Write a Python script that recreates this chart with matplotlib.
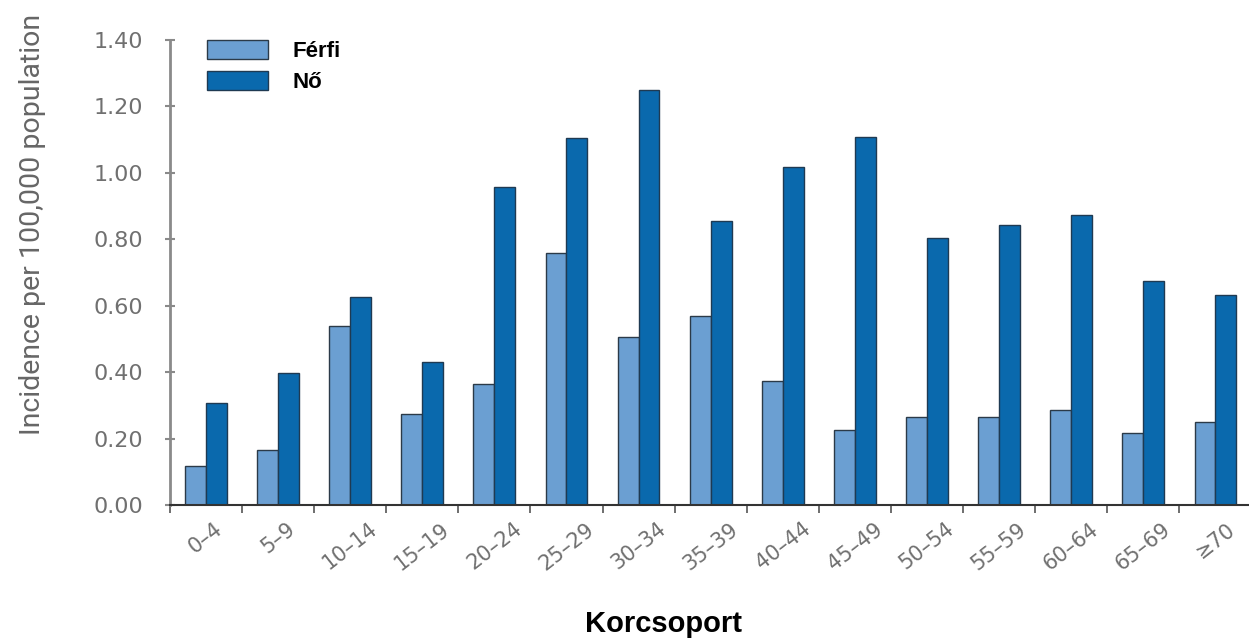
import numpy as np
import matplotlib

matplotlib.use('agg')

import matplotlib.pyplot as plt
from matplotlib.ticker import FixedLocator

groups = ['0–4', '5–9', '10–14', '15–19', '20–24', '25–29', '30–34', '35–39',
          '40–44', '45–49', '50–54', '55–59', '60–64', '65–69', '≥70']
ferfi = [0.117, 0.166, 0.54, 0.274, 0.364, 0.76, 0.506, 0.569,
         0.374, 0.226, 0.265, 0.265, 0.286, 0.217, 0.25]
no = [0.307, 0.397, 0.626, 0.43, 0.957, 1.105, 1.25, 0.856,
      1.018, 1.108, 0.804, 0.843, 0.873, 0.675, 0.632]
yticks = [0.0, 0.2, 0.4, 0.6, 0.8, 1.0, 1.2, 1.4]


def main():
    fig = plt.figure(figsize=(12.49, 6.4), dpi=100)
    ax = fig.add_axes([0.136, 0.211, 0.866, 0.7265])

    x = np.arange(len(groups))
    w = 0.29
    ax.bar(x - w / 2, ferfi, w, color='#6b9fd2', edgecolor='#2b3a48',
           linewidth=1, label='Férfi')
    ax.bar(x + w / 2, no, w, color='#0a69ad', edgecolor='#1f3a52',
           linewidth=1, label='Nő')

    ax.set_xlim(-0.5, len(groups) - 0.5)
    ax.set_ylim(0, 1.4)

    ax.spines['top'].set_visible(False)
    ax.spines['right'].set_visible(False)
    ax.spines['left'].set_color('#8a8a8a')
    ax.spines['left'].set_linewidth(2)
    ax.spines['bottom'].set_color('#333333')
    ax.spines['bottom'].set_linewidth(1.5)

    ax.set_yticks(yticks)
    ax.set_yticklabels(['%.2f' % v for v in yticks])
    ax.tick_params(axis='y', direction='inout', length=7, width=1.5,
                   color='#8a8a8a', labelcolor='#707070', labelsize=16, pad=16)

    ax.set_xticks(x)
    ax.set_xticklabels(groups, rotation=38, ha='center')
    ax.tick_params(axis='x', which='major', length=0, labelcolor='#707070',
                   labelsize=15, pad=10)
    ax.xaxis.set_minor_locator(FixedLocator(np.arange(len(groups) + 1) - 0.5))
    ax.tick_params(axis='x', which='minor', direction='out', length=6,
                   width=1.2, color='#555555')

    fig.text(0.026, 0.65, 'Incidence per 100,000 population', rotation=90,
             ha='center', va='center', fontsize=20.5, color='#666666',
             family='Roboto')
    fig.text(0.531, 0.025, 'Korcsoport', ha='center', va='center',
             fontsize=21, fontweight='bold', family='Liberation Sans',
             color='black')

    ax.legend(loc='upper left', bbox_to_anchor=(207 / 1249, 1 - 40 / 640),
              bbox_transform=fig.transFigure, frameon=False,
              borderpad=0, borderaxespad=0,
              handlelength=2.75, handleheight=0.95, handletextpad=1.08,
              labelspacing=0.4,
              prop={'family': 'Liberation Sans', 'weight': 'bold',
                    'size': 16})

    fig.savefig('out.png', dpi=100)


if __name__ == '__main__':
    main()
